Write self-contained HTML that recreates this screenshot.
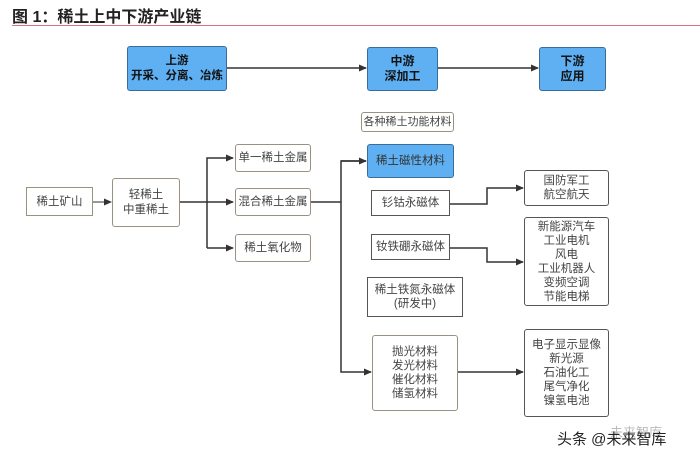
<!DOCTYPE html>
<html><head><meta charset="utf-8"><style>
body{margin:0;width:700px;height:462px;background:#fff;overflow:hidden;position:relative;font-family:"Liberation Sans","Noto Sans CJK SC",sans-serif}
.b{position:absolute;box-sizing:border-box;border:1.5px solid #555;border-radius:3px;background:#fff;display:flex;align-items:center;justify-content:center;text-align:center;font-size:11.5px;color:#444;line-height:14px;white-space:nowrap}
.g{border-color:#9a9280}
.blue{background:#5eb0f2;border-color:#3a6c9a;color:#111;font-weight:bold}
svg{position:absolute;left:0;top:0}
</style></head><body>
<div style="position:absolute;left:12px;top:3px;font-size:16px;font-weight:bold;color:#222">图 1：稀土上中下游产业链</div>
<div style="position:absolute;left:12px;top:25px;width:688px;height:1px;background:#e0707a"></div>
<svg width="700" height="462">
<defs><marker id="a" markerWidth="8" markerHeight="8" refX="7" refY="4" orient="auto" markerUnits="userSpaceOnUse"><path d="M0,0.5 L8,4 L0,7.5z" fill="#333"/></marker></defs>
<g stroke="#333" stroke-width="1.5" fill="none">
<path d="M227 68 H366" marker-end="url(#a)"/>
<path d="M438 68 H538" marker-end="url(#a)"/>
<path d="M93 202 H111" stroke-width="1" marker-end="url(#a)"/>
<path d="M180 202 H233" marker-end="url(#a)"/>
<path d="M207 248 V158 H233" marker-end="url(#a)"/>
<path d="M207 248 H233" marker-end="url(#a)"/>
<path d="M311 202 H341"/>
<path d="M366 161 H341 V372 H371" marker-end="url(#a)"/>
<path d="M341 161 H366" marker-end="url(#a)"/>
<path d="M450 204 H487 V188 H523" marker-end="url(#a)"/>
<path d="M450 248 H487 V262 H523" marker-end="url(#a)"/>
<path d="M458 372 H523" marker-end="url(#a)"/>
</g></svg>
<div class="b blue" style="left:127px;top:46px;width:100px;height:45px;font-size:11.5px;line-height:15px">上游<br>开采、分离、冶炼</div>
<div class="b blue" style="left:367px;top:47px;width:71px;height:44px;font-size:12px;line-height:15px">中游<br>深加工</div>
<div class="b blue" style="left:539px;top:47px;width:67px;height:44px;font-size:12px;line-height:15px">下游<br>应用</div>
<div class="b g" style="left:26px;top:187px;width:67px;height:29px;border-radius:0">稀土矿山</div>
<div class="b g" style="left:112px;top:178px;width:68px;height:49px;line-height:15px">轻稀土<br>中重稀土</div>
<div class="b g" style="left:235px;top:144px;width:76px;height:28px">单一稀土金属</div>
<div class="b g" style="left:235px;top:188px;width:76px;height:28px">混合稀土金属</div>
<div class="b g" style="left:235px;top:234px;width:76px;height:28px">稀土氧化物</div>
<div class="b g" style="left:361px;top:112px;width:93px;height:20px;border-width:1px;font-size:11px">各种稀土功能材料</div>
<div class="b blue" style="left:367px;top:144px;width:87px;height:34px;font-weight:normal;color:#333">稀土磁性材料</div>
<div class="b" style="left:371px;top:190px;width:79px;height:26px;border-radius:0">钐钴永磁体</div>
<div class="b" style="left:371px;top:234px;width:79px;height:26px;border-radius:0">钕铁硼永磁体</div>
<div class="b" style="left:367px;top:277px;width:96px;height:40px;border-radius:0">稀土铁氮永磁体<br>(研发中)</div>
<div class="b g" style="left:372px;top:335px;width:86px;height:76px">抛光材料<br>发光材料<br>催化材料<br>储氢材料</div>
<div class="b" style="left:524px;top:170px;width:85px;height:36px">国防军工<br>航空航天</div>
<div class="b" style="left:524px;top:217px;width:85px;height:89px">新能源汽车<br>工业电机<br>风电<br>工业机器人<br>变频空调<br>节能电梯</div>
<div class="b" style="left:524px;top:329px;width:85px;height:88px">电子显示显像<br>新光源<br>石油化工<br>尾气净化<br>镍氢电池</div>
<div style="position:absolute;left:610px;top:422px;font-size:13px;color:#bbb">未来智库</div>
<div style="position:absolute;left:557px;top:428px;font-size:15px;color:#222">头条 @未来智库</div>
</body></html>
